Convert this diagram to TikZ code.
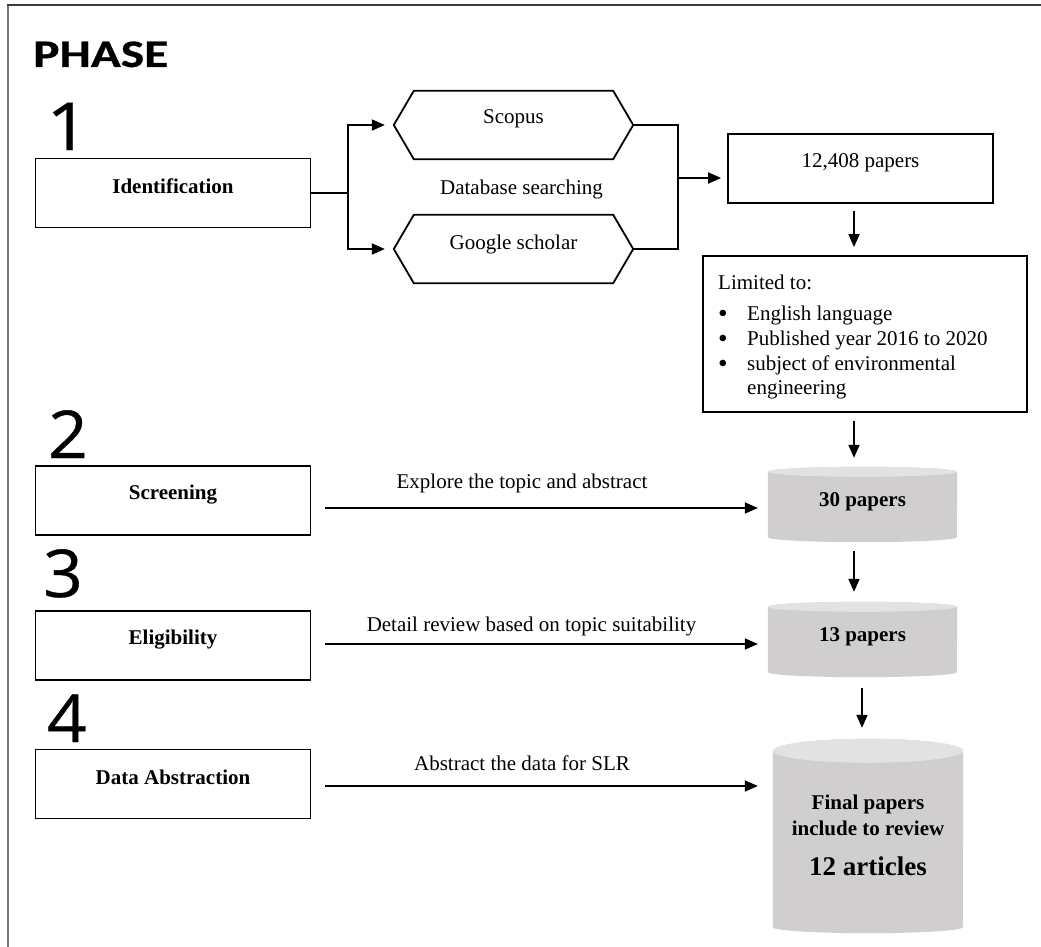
\documentclass[tikz,border=0pt]{standalone}
\usepackage{graphicx}
\usepackage{fontspec}
\setmainfont{Liberation Serif}
\newfontfamily\calibnum[FakeBold=0.6]{Carlito}
\newfontfamily\digfont[FakeBold=0.5]{Open Sans}
\usetikzlibrary{arrows.meta}
\pgfdeclarelayer{background}
\pgfsetlayers{background,main}
\definecolor{cylbody}{RGB}{208,206,207}
\definecolor{cyltop}{RGB}{226,226,226}
\definecolor{frameleft}{RGB}{120,120,120}
\definecolor{frametop}{RGB}{60,60,60}
\tikzset{
  phasebox/.style={draw, line width=1.8pt, minimum width=275pt, minimum height=69pt, inner sep=0pt},
  plainbox/.style={draw, line width=1.8pt, inner sep=0pt},
  txt/.style={font=\fontsize{21}{25}\selectfont, inner sep=0pt},
  btxt/.style={font=\fontsize{21}{25}\selectfont\bfseries, inner sep=0pt},
  conn/.style={line width=1.8pt},
  arr/.style={line width=1.8pt, -{Triangle[length=13pt,width=11pt]}},
  cyl/.style={minimum width=189pt, inner sep=0pt},
  hexnode/.style={minimum width=239pt, minimum height=68pt, inner sep=0pt},
  numtxt/.style={font=\digfont\fontsize{66}{66}\selectfont, inner sep=0pt, anchor=base west},
}
\newcommand\drawcyl[4]{%
  \begin{pgfonlayer}{background}
    \fill[cylbody] ([yshift=-#2pt]#1.north west) -- ([yshift=#3pt]#1.south west)
      arc[start angle=180,end angle=360,x radius=#4pt,y radius=#3pt]
      -- ([yshift=-#2pt]#1.north east)
      arc[start angle=0,end angle=180,x radius=#4pt,y radius=#2pt] -- cycle;
    \fill[cyltop] ([yshift=-#2pt]#1.north) ellipse [x radius=#4pt, y radius=#2pt];
  \end{pgfonlayer}}
\newcommand\drawhex[1]{%
  \draw[conn] (#1.west) -- ([xshift=20pt]#1.north west) -- ([xshift=-20pt]#1.north east)
    -- (#1.east) -- ([xshift=-20pt]#1.south east) -- ([xshift=20pt]#1.south west) -- cycle;}
\newcommand\bul{\makebox[29pt][l]{\smash{\raisebox{-2pt}{\scalebox{1.3}{\textbullet}}}}}
\begin{document}
\begin{tikzpicture}[x=1pt,y=-1pt]
\useasboundingbox (0,0) rectangle (1041,947);
% frame
\draw[line width=1.5pt, frameleft] (8,947) -- (8,5);
\draw[line width=1.5pt, frametop] (7.25,5) -- (1041,5);

% titles
\node[font=\calibnum\bfseries\fontsize{39}{39}\selectfont, anchor=base west, inner sep=0pt] (ph) at (33,67) {\scalebox{1.27}[1]{PHASE}};
\node[numtxt] (n1) at (46,150) {\scalebox{1.15}[1]{1}};
\node[numtxt] (n2) at (48,458) {\scalebox{1.05}[1]{2}};
\node[numtxt] (n3) at (43,597) {\scalebox{1.05}[1]{3}};
\node[numtxt] (n4) at (47,742) {\scalebox{1.05}[1]{4}};

% phase boxes
\node[phasebox] (id) at (173,193) {};
\node[btxt] (idT) at ([yshift=7pt]id.center) {Identification};
\node[phasebox] (scr) at (173,500.5) {};
\node[btxt] (scrT) at ([yshift=6pt]scr.center) {Screening};
\node[phasebox] (el) at (173,645.5) {};
\node[btxt] (elT) at ([yshift=6pt]el.center) {Eligibility};
\node[phasebox] (da) at (173,784) {};
\node[btxt] (daT) at ([yshift=7pt]da.center) {Data Abstraction};

% databases
\node[hexnode] (sc) at (513.5,125) {};
\drawhex{sc}
\node[txt] (scT) at ([yshift=6pt]sc.center) {Scopus};
\node[hexnode] (gs) at (513.5,249) {};
\drawhex{gs}
\node[txt] (gsT) at ([yshift=5pt]gs.center) {Google scholar};
\node[txt] (db) at (521.5,189) {Database searching};

% records box
\node[plainbox, minimum width=265pt, minimum height=69pt] (p12) at (860.5,168.5) {};
\node[txt] (p12T) at ([yshift=6pt]p12.center) {12,408 papers};

% limits box
\node[plainbox, minimum width=324pt, minimum height=156pt] (lim) at (865,334) {};
\node[txt, anchor=north west, align=left, font=\fontsize{21}{24.8}\selectfont] (limT) at (718,275)
  {Limited to:\\[6pt]
   \bul English language\\
   \bul Published year 2016 to 2020\\
   \bul subject of environmental\\
   \makebox[29pt][l]{}engineering};

% cylinders
\node[cyl, minimum height=75pt] (c30) at (862.5,504.5) {};
\drawcyl{c30}{5}{5}{94.5}
\node[btxt] (c30T) at (862.5,502) {30 papers};
\node[cyl, minimum height=75pt] (c13) at (862.5,639.5) {};
\drawcyl{c13}{5}{5}{94.5}
\node[btxt] (c13T) at (862.5,637) {13 papers};
\node[cyl, minimum width=190pt, minimum height=194pt] (cfin) at (868,836) {};
\drawcyl{cfin}{12}{6}{95}
\node[btxt] (cfinA) at (868,804) {Final papers};
\node[btxt] (cfinB) at (868,828) {include to review};
\node[btxt, font=\fontsize{27}{30}\selectfont\bfseries] (cfinC) at (868,866) {12 articles};

% connectors: identification split
\coordinate (sp) at (348,193);
\draw[conn] (id.east) -- (sp);
\draw[arr, shorten >=9pt] (sp) |- (sc.west);
\draw[arr, shorten >=9pt] (sp) |- (gs.west);
% merge
\coordinate (mg) at (678,178);
\draw[conn] (sc.east) -| (mg);
\draw[conn] (gs.east) -| (mg);
\draw[arr, shorten >=6pt] (mg) -- (mg -| p12.west);

% vertical flow
\coordinate (col1) at (854,0);
\coordinate (col2) at (862,0);
\draw[arr, shorten <=7pt, shorten >=8pt] (p12.south -| col1) -- (lim.north -| col1);
\draw[arr, shorten <=8pt, shorten >=9pt] (lim.south -| col1) -- (c30.north -| col1);
\draw[arr, shorten <=9pt, shorten >=10pt] (c30.south -| col1) -- (c13.north -| col1);
\draw[arr, shorten <=11pt, shorten >=11pt] (c13.south -| col2) -- (cfin.north -| col2);

% phase arrows
\path ([yshift=-7.5pt]scr.east) coordinate (s2a);
\draw[arr, shorten <=14pt, shorten >=10pt] (s2a) -- (s2a -| c30.west);
\path ([yshift=1.5pt]el.east) coordinate (s3a);
\draw[arr, shorten <=14pt, shorten >=10pt] (s3a) -- (s3a -| c13.west);
\path ([yshift=-2pt]da.east) coordinate (s4a);
\draw[arr, shorten <=14pt, shorten >=15pt] (s4a) -- (s4a -| cfin.west);

\node[txt] (l2) at (522,483) {Explore the topic and abstract};
\node[txt] (l3) at (531.5,626) {Detail review based on topic suitability};
\node[txt] (l4) at (522,763) {Abstract the data for SLR};
\end{tikzpicture}
\end{document}
